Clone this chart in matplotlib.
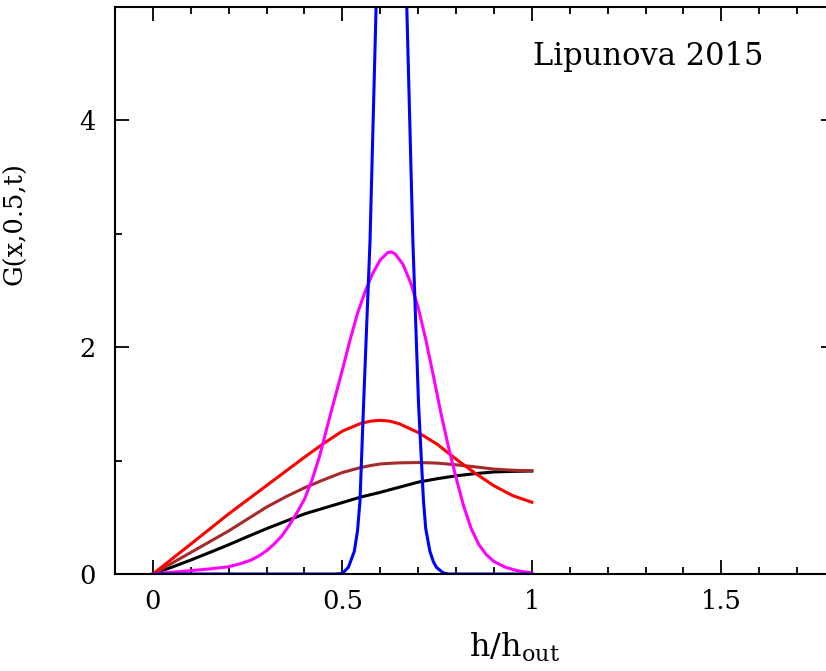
import matplotlib.pyplot as plt
from matplotlib.ticker import MultipleLocator

plt.rcParams['font.family'] = 'DejaVu Serif'
plt.rcParams['mathtext.fontset'] = 'dejavuserif'

# G(x, 0.5, t) at several times, read along h/h_out
x_smooth = [0.0, 0.05, 0.1, 0.15, 0.2, 0.25, 0.3, 0.35, 0.4, 0.45, 0.5,
            0.55, 0.575, 0.6, 0.625, 0.65, 0.7, 0.75, 0.8, 0.85, 0.9, 0.95, 1.0]
g_black = [0.0, 0.06, 0.123, 0.19, 0.258, 0.33, 0.40, 0.465, 0.53, 0.58, 0.63,
           0.68, 0.70, 0.72, 0.743, 0.765, 0.81, 0.84, 0.866, 0.885, 0.90, 0.905, 0.908]
g_brown = [0.0, 0.095, 0.19, 0.285, 0.38, 0.485, 0.59, 0.68, 0.76, 0.83, 0.895,
           0.94, 0.957, 0.97, 0.976, 0.98, 0.983, 0.978, 0.963, 0.945, 0.925, 0.915, 0.91]
g_red = [0.0, 0.132, 0.264, 0.397, 0.53, 0.655, 0.78, 0.905, 1.03, 1.15, 1.26,
         1.33, 1.348, 1.355, 1.348, 1.325, 1.248, 1.145, 1.013, 0.89, 0.778, 0.69, 0.633]

x_magenta = [0.0, 0.1, 0.15, 0.2, 0.23, 0.257, 0.28, 0.3, 0.32, 0.34, 0.36, 0.38,
             0.4, 0.42, 0.44, 0.46, 0.48, 0.5, 0.52, 0.54, 0.56, 0.58, 0.6, 0.62,
             0.63, 0.64, 0.66, 0.68, 0.7, 0.72, 0.74, 0.76, 0.78, 0.8, 0.82, 0.84,
             0.86, 0.88, 0.9, 0.93, 0.96, 1.0]
g_magenta = [0.0, 0.03, 0.045, 0.064, 0.09, 0.12, 0.16, 0.205, 0.265, 0.335, 0.43,
             0.54, 0.66, 0.83, 1.04, 1.30, 1.55, 1.80, 2.06, 2.30, 2.49, 2.65, 2.77,
             2.835, 2.84, 2.82, 2.73, 2.57, 2.35, 2.07, 1.75, 1.42, 1.12, 0.85, 0.60,
             0.40, 0.26, 0.17, 0.11, 0.06, 0.03, 0.01]

x_blue = [0.0, 0.48, 0.50, 0.516, 0.5315, 0.54, 0.5465, 0.556, 0.573, 0.589,
          0.60, 0.615, 0.63, 0.645, 0.66, 0.670, 0.686, 0.701, 0.714, 0.72,
          0.731, 0.74, 0.748, 0.766, 0.78, 1.0]
g_blue = [0.0, 0.0, 0.005, 0.06, 0.2, 0.38, 0.645, 1.5, 2.94, 5.0,
          6.5, 8.2, 8.8, 8.2, 6.5, 5.0, 2.94, 1.5, 0.645, 0.40,
          0.2, 0.11, 0.06, 0.01, 0.0, 0.0]

fig = plt.figure(figsize=(8.26, 6.71), dpi=100)
ax = fig.add_axes([115 / 826, 97 / 671, 720 / 826, 567 / 671])

lw = 2.2
ax.plot(x_smooth, g_black, color='black', lw=lw)
ax.plot(x_smooth, g_brown, color='#a52a2a', lw=lw)
ax.plot(x_smooth, g_red, color='red', lw=lw)
ax.plot(x_magenta, g_magenta, color='magenta', lw=lw)
ax.plot(x_blue, g_blue, color='blue', lw=lw)

ax.set_xlim(-0.1, 1.8)
ax.set_ylim(0, 5)
ax.xaxis.set_major_locator(MultipleLocator(0.5))
ax.xaxis.set_minor_locator(MultipleLocator(0.1))
ax.yaxis.set_major_locator(MultipleLocator(2))
ax.yaxis.set_minor_locator(MultipleLocator(1))
ax.set_xticks([0, 0.5, 1, 1.5], ['0', '0.5', '1', '1.5'])
ax.set_yticks([0, 2, 4], ['0', '2', '4'])

ax.tick_params(which='both', direction='in', top=True, right=True, width=1.3)
ax.tick_params(which='major', length=10)
ax.tick_params(which='minor', length=5)
ax.tick_params(axis='x', which='major', labelsize=18.5, pad=11)
ax.tick_params(axis='y', which='major', labelsize=18.5, pad=14)
for s in ax.spines.values():
    s.set_linewidth(1.5)

ax.set_xlabel(r'$\mathrm{h/h_{out}}$', fontsize=23)
ax.xaxis.set_label_coords((515 - 115) / 720, (574 - 657) / 567, transform=ax.transAxes)
ax.xaxis.label.set_va('baseline')
ax.set_ylabel('G(x,0.5,t)', fontsize=18.5)
ax.yaxis.set_label_coords((27 - 115) / 720, (574 - 224) / 567)

ax.text(1.003, 4.485, 'Lipunova 2015', fontsize=22, ha='left', va='baseline')

fig.savefig('out.png', dpi=100)
